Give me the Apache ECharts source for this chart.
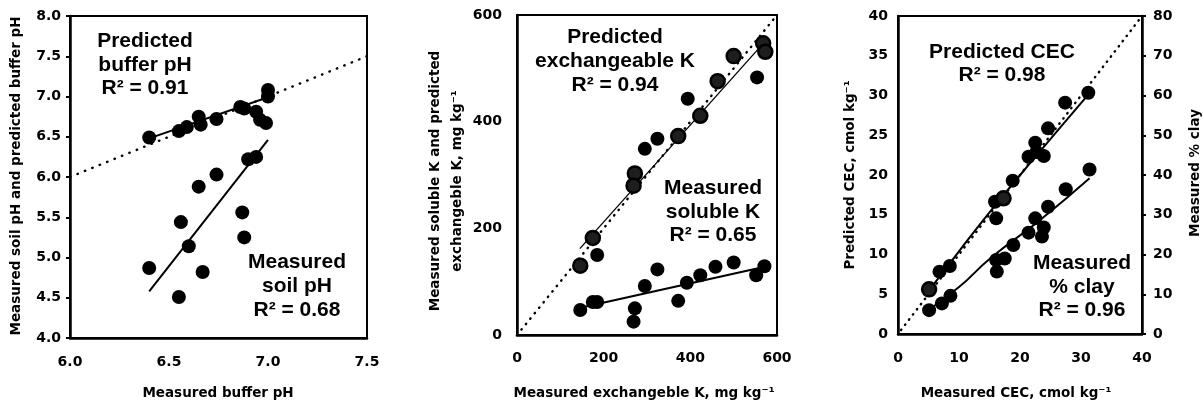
<!DOCTYPE html>
<html><head><meta charset="utf-8">
<script src="https://cdn.jsdelivr.net/npm/echarts/dist/echarts.min.js"></script>
<style>html,body{margin:0;padding:0;background:#fff}#c{width:1204px;height:402px}</style>
</head><body><div id="c"></div>
<script>
// ---------- Panel 1: buffer pH ----------
const p1Predicted = [[6.40,6.49],[6.55,6.57],[6.59,6.62],[6.65,6.75],[6.66,6.65],[6.74,6.72],[6.86,6.87],[6.88,6.85],[6.94,6.81],[6.96,6.71],[6.99,6.67],[7.00,7.08],[7.00,7.00]];
const p1Soil = [[6.40,4.87],[6.55,4.51],[6.56,5.44],[6.60,5.14],[6.65,5.88],[6.67,4.82],[6.74,6.03],[6.87,5.56],[6.88,5.25],[6.90,6.22],[6.94,6.25]];
const p1PredFit = [[6.40,6.48],[7.00,6.99]];
const p1SoilFit = [[6.40,4.58],[7.00,6.46]];
const p1OneToOne = [[6.0,6.0],[7.5,7.5]];
const p1XTicks = [6.0, 7.5, 0.5];
const p1YTicks = [4.0, 8.0, 0.5];

// ---------- Panel 2: potassium ----------
const p2PredFilled = [[185,150],[295,349],[324,368],[394,443],[554,483]];
const p2PredOpen = [[146,130],[175,182],[272,303],[269,280],[372,373],[423,411],[463,476],[500,523],[568,547],[573,531]];
const p2Soluble = [[146,47],[175,62],[185,62],[272,50],[269,25],[295,92],[324,123],[372,64],[392,98],[423,112],[458,128],[500,136],[552,112],[571,129]];
const p2PredFit = [[145,162],[572,550]];
const p2SolFit = [[157,53],[572,128]];
const p2OneToOne = [[0,0],[600,600]];
const p2XTicks = [0, 600, 200];
const p2YTicks = [0, 600, 200];

// ---------- Panel 3: CEC ----------
const p3PredFilled = [[6.8,7.84],[8.5,8.55],[15.9,16.64],[16.1,14.55],[18.8,19.29],[21.4,22.3],[22.5,24.07],[22.7,22.9],[23.9,22.39],[24.6,25.87],[27.4,29.1],[31.2,30.35]];
const p3PredOpen = [[5.1,5.62],[17.3,17.07]];
const p3Clay = [[5.1,6.0],[7.2,7.7],[8.6,9.6],[16.1,18.6],[16.2,15.7],[17.5,19.0],[18.9,22.4],[21.4,25.5],[22.5,29.1],[23.6,24.5],[23.9,26.8],[24.6,32.0],[27.5,36.4],[31.4,41.4]];
const p3PredFit = [[5.5,5.9],[10,10.4],[15.1,15.4],[22,21.8],[31.4,30.3]];
const p3ClayFit = [[4.6,5.6],[10,11.8],[15.1,19.0],[23.3,28.7],[31.4,39.2]];
const p3OneToOne = [[0.5,0.5],[40,40]];
const p3XTicks = [0, 40, 10];
const p3YTicks = [0, 40, 5];
const p3Y2Ticks = [0, 80, 10];

// ---------- Text ----------
const titles = {
  x1: 'Measured buffer pH',
  y1: 'Measured soil pH and predicted buffer pH',
  x2: 'Measured exchangeble K, mg kg⁻¹',
  y2: 'Measured soluble K and predicted\nexchangeble K, mg kg⁻¹',
  x3: 'Measured CEC, cmol kg⁻¹',
  y3: 'Predicted CEC, cmol kg⁻¹',
  y3r: 'Measured % clay'
};
const notes = {
  p1a: 'Predicted\nbuffer pH\nR² = 0.91',
  p1b: 'Measured\nsoil pH\nR² = 0.68',
  p2a: 'Predicted\nexchangeable K\nR² = 0.94',
  p2b: 'Measured\nsoluble K\nR² = 0.65',
  p3a: 'Predicted CEC\nR² = 0.98',
  p3b: 'Measured\n% clay\nR² = 0.96'
};

const tickFont = {color:'#000', fontFamily:'DejaVu Sans', fontWeight:'bold', fontSize:14};
const axisLine = {show:true, onZero:false, lineStyle:{color:'#000', width:2.5}};

function xAx(g, t, fmt, margin) {
  return {gridIndex:g, type:'value', min:t[0], max:t[1], interval:t[2],
    axisLine, axisTick:{show:false}, splitLine:{show:false},
    axisLabel:Object.assign({margin, formatter:fmt}, tickFont)};
}
function yAx(g, t, fmt, margin, pos, tick) {
  return {gridIndex:g, type:'value', min:t[0], max:t[1], interval:t[2], position:pos,
    axisLine, axisTick:{show:tick, length:4, lineStyle:{color:'#000', width:2}}, splitLine:{show:false},
    axisLabel:Object.assign({margin, formatter:fmt}, tickFont)};
}
const f1 = v => v.toFixed(1);
const f0 = v => String(v);

function scatter(xi, yi, data, open) {
  return {type:'scatter', xAxisIndex:xi, yAxisIndex:yi, data, symbolSize:14, z:5,
    itemStyle: open ? {color:'#1e1e1e', borderColor:'#000', borderWidth:2.5, opacity:1} : {color:'#000', opacity:1}};
}
function fit(xi, yi, data, w, smooth) {
  return {type:'line', xAxisIndex:xi, yAxisIndex:yi, data, symbol:'none', smooth:!!smooth, z:4,
    lineStyle:{color:'#000', width:w}};
}
function dotted(xi, yi, data, gap) {
  return {type:'line', xAxisIndex:xi, yAxisIndex:yi, data, symbol:'none', z:3,
    lineStyle:{color:'#000', width:2.4, type:[0.5,gap], cap:'round'}};
}

const noteFont = {fontFamily:'Liberation Sans, Arial', fontWeight:'bold', fontSize:21};
const titleFont = {fontFamily:'DejaVu Sans', fontWeight:'bold', fontSize:13.5};
function txt(text, x, y, font, lh, rot) {
  return {type:'text', x, y, rotation: rot || 0, z:10,
    style:Object.assign({text, fill:'#000', align:'center', verticalAlign:'middle',
      textAlign:'center', textVerticalAlign:'middle', lineHeight:lh}, font)};
}

const option = {
  animation:false,
  backgroundColor:'#fff',
  grid:[
    {left:70, top:16, width:297, height:322, show:true, borderColor:'#000', borderWidth:2},
    {left:517, top:15, width:260, height:320, show:true, borderColor:'#000', borderWidth:2},
    {left:898, top:16, width:244, height:318, show:true, borderColor:'#000', borderWidth:2}
  ],
  xAxis:[
    xAx(0, p1XTicks, f1, 17),
    xAx(1, p2XTicks, f0, 16),
    xAx(2, p3XTicks, f0, 17)
  ],
  yAxis:[
    yAx(0, p1YTicks, f1, 9, 'left', true),
    yAx(1, p2YTicks, f0, 15, 'left', false),
    yAx(2, p3YTicks, f0, 10, 'left', false),
    yAx(2, p3Y2Ticks, f0, 11, 'right', true)
  ],
  series:[
    dotted(0,0,p1OneToOne,7.5),
    fit(0,0,p1PredFit,2),
    fit(0,0,p1SoilFit,2),
    scatter(0,0,p1Predicted),
    scatter(0,0,p1Soil),

    dotted(1,1,p2OneToOne,6.5),
    fit(1,1,p2PredFit,1.3),
    fit(1,1,p2SolFit,2.2),
    scatter(1,1,p2PredFilled),
    scatter(1,1,p2PredOpen,true),
    scatter(1,1,p2Soluble),

    dotted(2,2,p3OneToOne,6),
    fit(2,2,p3PredFit,2,true),
    fit(2,3,p3ClayFit,2,true),
    scatter(2,2,p3PredFilled),
    scatter(2,2,p3PredOpen,true),
    scatter(2,3,p3Clay)
  ],
  graphic:{elements:[
    txt(notes.p1a, 145, 65, noteFont, 23.5),
    txt(notes.p1b, 297, 286, noteFont, 24),
    txt(notes.p2a, 615, 61, noteFont, 24),
    txt(notes.p2b, 713, 212, noteFont, 23.5),
    txt(notes.p3a, 1002, 63.5, noteFont, 23.5),
    txt(notes.p3b, 1082, 287, noteFont, 23.5),

    txt(titles.x1, 218, 393, titleFont, 16),
    txt(titles.x2, 644, 393, titleFont, 16),
    txt(titles.x3, 1016, 393, titleFont, 16),
    txt(titles.y1, 16.5, 176, titleFont, 16, Math.PI/2),
    txt(titles.y2, 446.5, 181, titleFont, 22, Math.PI/2),
    txt(titles.y3, 850, 175, titleFont, 16, Math.PI/2),
    txt(titles.y3r, 1195, 173, titleFont, 16, Math.PI/2)
  ]}
};

const chart = echarts.init(document.getElementById('c'), null, {renderer:'canvas'});
chart.setOption(option);
</script></body></html>
